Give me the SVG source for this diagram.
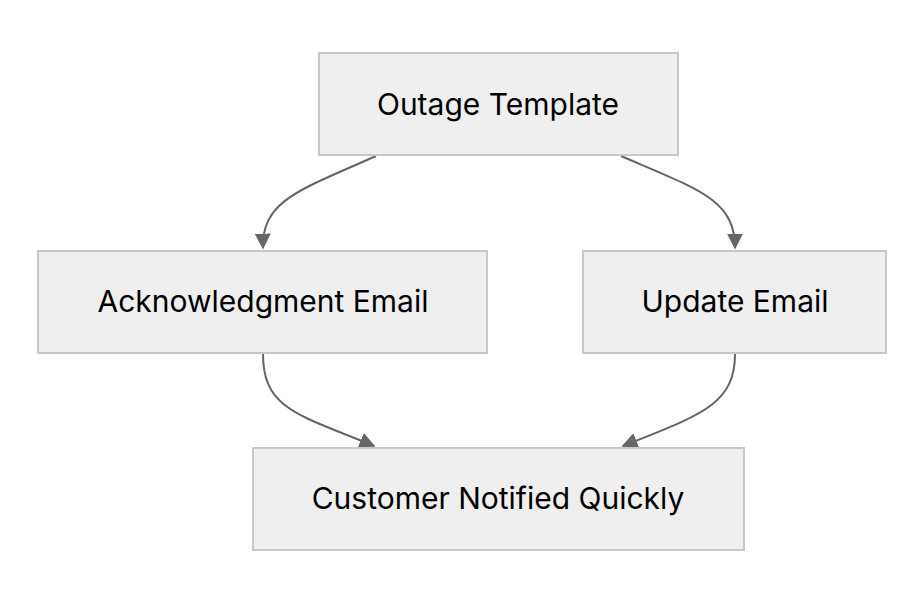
<svg xmlns="http://www.w3.org/2000/svg" width="924" height="604" viewBox="0 0 924 604">
<style>
.n rect{fill:#efefef;stroke:#c8c8c8;stroke-width:2}
.n text{font-family:Inter,"Liberation Sans",sans-serif;font-size:30px;fill:#000;text-anchor:middle;dominant-baseline:central}
.e path{fill:none;stroke:#666;stroke-width:2;marker-end:url(#a)}
</style>
<defs><marker id="a" viewBox="0 0 10 10" refX="9" refY="5" markerWidth="8" markerHeight="8" orient="auto"><path d="M0,0L10,5L0,10z" fill="#666"/></marker></defs>
<rect width="924" height="604" fill="#fff"/>
<g class="e">
<path d="M376,156 C300,190 262,200 263,248"/>
<path d="M621,156 C700,190 735,200 735,248"/>
<path d="M263,354 C263,410 300,415 374,446"/>
<path d="M735,354 C735,405 700,415 623,446"/>
</g>
<g id="n1" class="n"><rect x="319" y="53" width="359" height="102"/><text x="498" y="104">Outage Template</text></g>
<g id="n2" class="n"><rect x="38" y="251" width="449" height="102"/><text x="263" y="301">Acknowledgment Email</text></g>
<g id="n3" class="n"><rect x="583" y="251" width="303" height="102"/><text x="735" y="301">Update Email</text></g>
<g id="n4" class="n"><rect x="253" y="448" width="491" height="102"/><text x="498" y="498">Customer Notified Quickly</text></g>
</svg>
